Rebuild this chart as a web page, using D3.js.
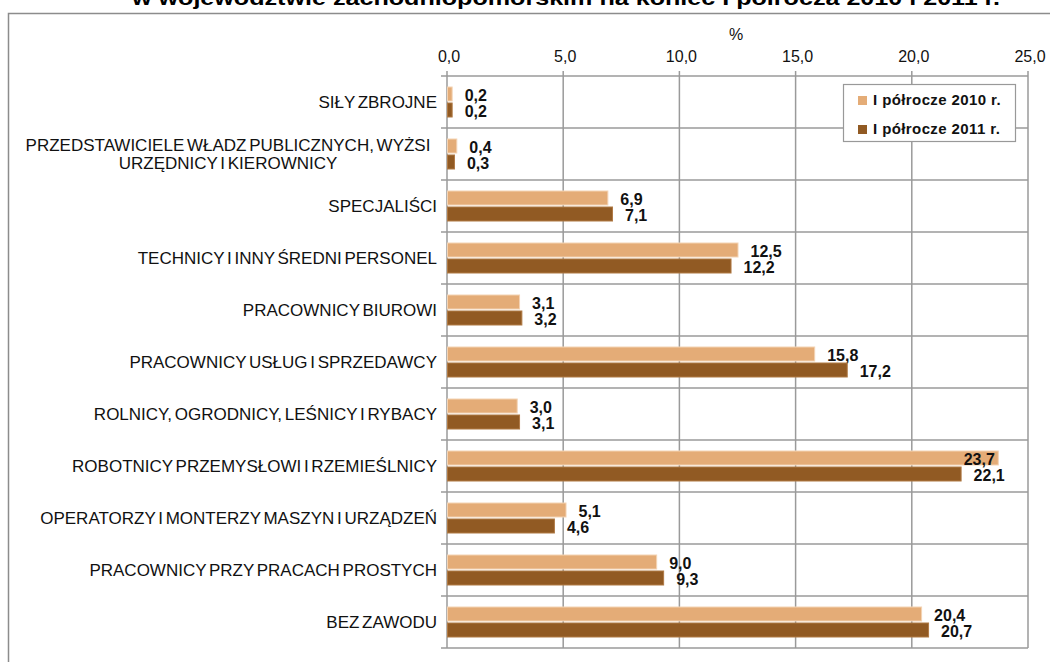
<!DOCTYPE html>
<html><head><meta charset="utf-8">
<script src="https://cdn.jsdelivr.net/npm/d3@7"></script>
<style>body{margin:0;background:#fff}svg{display:block}text{font-family:"Liberation Sans",Arial,sans-serif}</style>
</head><body>
<svg id="c" width="1050" height="662"></svg>
<script>
const categories = [
  ["SIŁY ZBROJNE"],
  ["PRZEDSTAWICIELE WŁADZ PUBLICZNYCH, WYŻSI","URZĘDNICY I KIEROWNICY"],
  ["SPECJALIŚCI"],
  ["TECHNICY I INNY ŚREDNI PERSONEL"],
  ["PRACOWNICY BIUROWI"],
  ["PRACOWNICY USŁUG I SPRZEDAWCY"],
  ["ROLNICY, OGRODNICY, LEŚNICY I RYBACY"],
  ["ROBOTNICY PRZEMYSŁOWI I RZEMIEŚLNICY"],
  ["OPERATORZY I MONTERZY MASZYN I URZĄDZEŃ"],
  ["PRACOWNICY PRZY PRACACH PROSTYCH"],
  ["BEZ ZAWODU"]
];
const seriesNames = ["I półrocze 2010 r.","I półrocze 2011 r."];
const values2010 = [0.2,0.4,6.9,12.5,3.1,15.8,3.0,23.7,5.1,9.0,20.4];
const values2011 = [0.2,0.3,7.1,12.2,3.2,17.2,3.1,22.1,4.6,9.3,20.7];
const xTicks = [0,5,10,15,20,25];
const titleText = "w województwie zachodniopomorskim na koniec I półrocza 2010 i 2011 r.";
const axisUnit = "%";

const colors = ["#E4AC77","#915A23"];
const svg = d3.select("#c");
const L=447,R=1028,T=76,B=648;
const x = d3.scaleLinear().domain([0,25]).range([L,R]);
const y = d3.scaleBand().domain(d3.range(categories.length)).range([T,B]);
const fmt = v => d3.format(".1f")(v).replace(".",",");
const grid="#9a9a9a";

// title (cut by top edge)
svg.append("text").attr("x",566).attr("y",5).attr("text-anchor","middle")
  .attr("font-size",20).attr("font-weight","bold").attr("textLength",868).attr("lengthAdjust","spacingAndGlyphs").text(titleText);
// outer chart border
svg.append("rect").attr("x",8.5).attr("y",13.5).attr("width",1100).attr("height",700)
  .attr("fill","none").attr("stroke","#8c8c8c").attr("stroke-width",1.5);

// vertical grid
svg.append("g").selectAll("line").data(xTicks).join("line")
  .attr("x1",d=>x(d)).attr("x2",d=>x(d)).attr("y1",T-5).attr("y2",B)
  .attr("stroke",grid).attr("stroke-width",1.5);
// horizontal separators
const bounds = d3.range(categories.length+1).map(i=>T+i*y.step());
svg.append("g").selectAll("line").data(bounds).join("line")
  .attr("x1",L-6).attr("x2",R).attr("y1",d=>d).attr("y2",d=>d)
  .attr("stroke",grid).attr("stroke-width",1.5);
// top axis labels
svg.append("g").selectAll("text").data(xTicks).join("text")
  .attr("x",d=>x(d)+2).attr("y",62).attr("text-anchor","middle").attr("font-size",16).attr("fill","#111").text(fmt);
svg.append("text").attr("x",736).attr("y",40).attr("text-anchor","middle").attr("font-size",16).attr("fill","#111").text(axisUnit);

// category labels
const cl = svg.append("g");
categories.forEach((lines,i)=>{
  const cy = y(i)+y.bandwidth()/2;
  if(lines.length===1){
    cl.append("text").attr("x",437).attr("y",cy).attr("dy","0.35em").attr("text-anchor","end")
      .attr("font-size",17).attr("fill","#111").attr("word-spacing","-2px").text(lines[0]);
  } else {
    const t = cl.append("text").attr("x",228).attr("text-anchor","middle").attr("font-size",17).attr("fill","#111").attr("word-spacing","-2px");
    lines.forEach((ln,k)=>t.append("tspan").attr("x",228).attr("y",cy+(k-(lines.length-1)/2)*18).attr("dy","0.35em").text(ln));
  }
});

// bars
const barH=14, gap=2;
[values2010,values2011].forEach((vals,s)=>{
  const g = svg.append("g");
  vals.forEach((v,i)=>{
    const cy = y(i)+y.bandwidth()/2;
    const by = cy-(barH*2+gap)/2 + s*(barH+gap);
    g.append("rect").attr("x",x(0)+0.5).attr("y",by).attr("width",x(v)-x(0)).attr("height",barH)
      .attr("fill",colors[s]).attr("stroke",s===0?"#f3d3b4":"#b07a45").attr("stroke-width",1);
    const end = x(v);
    const inside = end+13+34 > R;
    g.append("text").attr("x",inside?end-3:end+13).attr("y",by+barH/2+1).attr("dy","0.35em")
      .attr("text-anchor",inside?"end":"start").attr("font-size",16).attr("font-weight","bold").attr("fill","#111").text(fmt(v));
  });
});

// legend
const lg = svg.append("g");
lg.append("rect").attr("x",843.5).attr("y",84.5).attr("width",172).attr("height",57).attr("fill","#fff").attr("stroke","#999").attr("stroke-width",1.2);
seriesNames.forEach((n,s)=>{
  const ly = 100+s*29;
  lg.append("rect").attr("x",858).attr("y",ly-4).attr("width",9).attr("height",9).attr("fill",colors[s]);
  lg.append("text").attr("x",873).attr("y",ly).attr("dy","0.35em").attr("font-size",15).attr("font-weight","bold").attr("letter-spacing","0.4px").attr("fill","#111").text(n);
});
</script>
</body></html>
